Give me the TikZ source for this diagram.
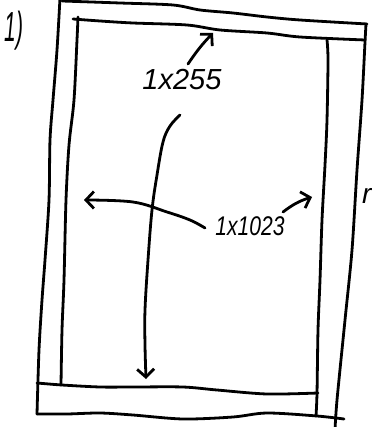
\documentclass[tikz,border=0pt]{standalone}
\usepackage{fontspec}
\setmainfont{Liberation Sans}
\usetikzlibrary{arrows.meta}
\begin{document}
\begin{tikzpicture}[x=1pt,y=-1pt,
  ink/.style={draw=black,line width=2.8pt,line cap=round,line join=round},
  tip/.style={-{Straight Barb[length=8pt,width=17pt,line width=2.8pt]}},
  lab/.style={inner sep=0pt,text=black}]
\useasboundingbox (0,0) rectangle (371,427);
\clip (0,0) rectangle (371,427);
% outer frame
\draw[ink] plot[smooth,tension=0.5] coordinates {(60,-2) (57,50) (53,100) (50,140) (49,200) (45,260) (42,300) (39,350) (37,414)};
\draw[ink] plot[smooth,tension=0.5] coordinates {(62,1) (120,3) (173,5) (200,10) (233,13) (267,17) (300,20) (367,24)};
\draw[ink] plot[smooth,tension=0.5] coordinates {(366,24) (365,42) (362,100) (357,170) (352,250) (345,320) (337,400) (335,430)};
\draw[ink] plot[smooth,tension=0.5] coordinates {(37,414) (67,414) (100,413) (133,415) (183,419) (233,417) (267,413) (317,416) (344,419)};
% inner lines
\draw[ink] plot[smooth,tension=0.5] coordinates {(73,19) (100,21) (133,23) (187,25) (220,30) (267,33) (300,37) (365,40)};
\draw[ink] plot[smooth,tension=0.5] coordinates {(78,17) (77,40) (74,100) (69,145) (66,200) (64,280) (62,330) (61,385)};
\draw[ink] plot[smooth,tension=0.5] coordinates {(327,40) (328,60) (327,120) (325,165) (322,220) (320,280) (318,330) (317,393) (316,416)};
\draw[ink] plot[smooth,tension=0.5] coordinates {(37,383) (62,385) (100,387) (133,387) (183,387) (217,390) (267,394) (318,393)};
% labels
\node[lab,font=\fontsize{42}{42}\selectfont\itshape,xscale=0.5] (one) at (14,31) {1)};
\node[lab,font=\fontsize{29}{29}\selectfont\itshape] (a) at (182,80) {1x255};
\node[lab,font=\fontsize{27}{27}\selectfont\itshape,xscale=0.78] (b) at (250,226) {1x1023};
\node[lab,font=\fontsize{28}{28}\selectfont\itshape,anchor=west] (r) at (362,196) {r};
% arrows
\coordinate (a1) at (188,64);
\coordinate (a2) at (213,33);
\draw[ink,tip] (a1) to[bend left=5] (a2);
\coordinate (v1) at (180,115);
\coordinate (v2) at (146,379);
\draw[ink,tip] plot[smooth,tension=0.6] coordinates {(v1) (170,126) (163,142) (157,175) (152,210) (148,260) (145,310) (145,345) (v2)};
\coordinate (h1) at (205,228);
\coordinate (h2) at (84,200);
\draw[ink,tip] plot[smooth,tension=0.6] coordinates {(h1) (190,220) (167,212) (133,202) (h2)};
\coordinate (s1) at (283,212);
\coordinate (s2) at (312,197);
\draw[ink,tip] (s1) to[bend left=10] (s2);
\end{tikzpicture}
\end{document}
